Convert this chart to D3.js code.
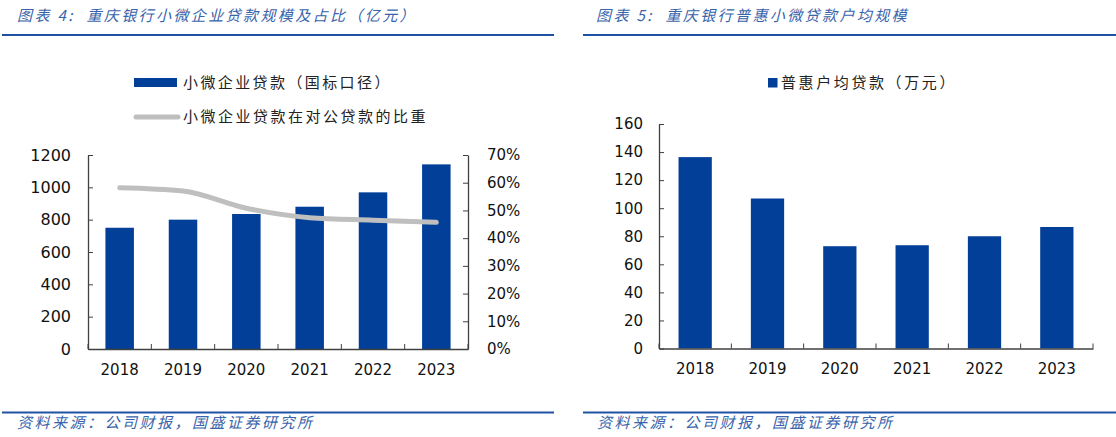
<!DOCTYPE html>
<html>
<head>
<meta charset="utf-8">
<script src="https://cdn.jsdelivr.net/npm/d3@7"></script>
<style>
  html, body { margin: 0; padding: 0; background: #fff; }
  svg { display: block; }
  text { white-space: pre; }
</style>
</head>
<body>
<svg id="chart" width="1116" height="437"></svg>
<script>
// ---------- data ----------
const years = ["2018", "2019", "2020", "2021", "2022", "2023"];
const smeLoans = [750, 800, 835, 880, 969, 1142];            // 亿元
const smeShare = [0.582, 0.570, 0.508, 0.474, 0.465, 0.457]; // 占对公贷款比重
const avgLoan = [136.4, 106.9, 72.9, 73.6, 80.0, 86.6];     // 万元
const leftTicks = [0, 200, 400, 600, 800, 1000, 1200];
const rightTicks = [0, 0.1, 0.2, 0.3, 0.4, 0.5, 0.6, 0.7];
const avgTicks = [0, 20, 40, 60, 80, 100, 120, 140, 160];

const title1 = "图表 4:  重庆银行小微企业贷款规模及占比（亿元）";
const title2 = "图表 5:  重庆银行普惠小微贷款户均规模";
const source = "资料来源：公司财报，国盛证券研究所";
const legend1a = "小微企业贷款（国标口径）";
const legend1b = "小微企业贷款在对公贷款的比重";
const legend2 = "普惠户均贷款（万元）";

// ---------- style ----------
const BAR = "#023F98";
const GREY = "#BFBFBF";
const AXIS = "#404040";
const HEAD = "#3A64AA";
const RULE = "#1F52A2";
const NUMF = "'DejaVu Sans', Verdana, sans-serif";
const CJK = "'Noto Sans CJK SC', 'Noto Sans', sans-serif";

const svg = d3.select("#chart");

// ---------- headers / footers ----------
function header(x0, x1, tx, text) {
  svg.append("line").attr("x1", x0).attr("x2", x1).attr("y1", 35).attr("y2", 35)
    .attr("stroke", RULE).attr("stroke-width", 2);
  svg.append("text").attr("x", tx).attr("y", 21)
    .attr("font-family", CJK).attr("font-size", 15).attr("font-style", "italic")
    .attr("letter-spacing", 2.4).attr("fill", HEAD).text(text);
}
function footer(x0, x1, tx) {
  svg.append("line").attr("x1", x0).attr("x2", x1).attr("y1", 412.5).attr("y2", 412.5)
    .attr("stroke", RULE).attr("stroke-width", 2);
  svg.append("text").attr("x", tx).attr("y", 428)
    .attr("font-family", CJK).attr("font-size", 15).attr("font-style", "italic")
    .attr("letter-spacing", 2.5).attr("fill", HEAD).text(source);
}
header(2, 554, 17, title1);
header(583, 1116, 596, title2);
footer(2, 554, 17);
footer(583, 1116, 597);

// ---------- chart 1 ----------
{
  const x = d3.scaleBand().domain(years).range([88, 468]).paddingInner(0.55).paddingOuter(0.275);
  const yL = d3.scaleLinear().domain([0, 1200]).range([349, 155]);
  const yR = d3.scaleLinear().domain([0, 0.7]).range([349, 155]);
  const g = svg.append("g");

  g.selectAll("rect.bar").data(years).join("rect").attr("class", "bar")
    .attr("x", d => x(d)).attr("width", x.bandwidth())
    .attr("y", (d, i) => yL(smeLoans[i])).attr("height", (d, i) => yL(0) - yL(smeLoans[i]))
    .attr("fill", BAR);

  const line = d3.line().x((d, i) => x(years[i]) + x.bandwidth() / 2).y(d => yR(d))
    .curve(d3.curveMonotoneX);
  g.append("path").datum(smeShare).attr("d", line).attr("fill", "none")
    .attr("stroke", GREY).attr("stroke-width", 5).attr("stroke-linecap", "round");

  const axL = g.append("g").attr("transform", "translate(88,0)")
    .call(d3.axisLeft(yL).tickValues(leftTicks).tickSizeInner(-5).tickSizeOuter(0).tickPadding(17).tickFormat(d3.format("d")));
  const axR = g.append("g").attr("transform", "translate(468,0)")
    .call(d3.axisRight(yR).tickValues(rightTicks).tickSizeInner(-5).tickSizeOuter(0).tickPadding(19).tickFormat(d3.format(".0%")));
  const axB = g.append("g").attr("transform", "translate(0,349)")
    .call(d3.axisBottom(x).tickSize(0).tickPadding(15));
  const bounds = d3.range(years.length + 1).map(i => 88 + i * x.step());
  axB.selectAll("line.bound").data(bounds).join("line").attr("class", "bound")
    .attr("x1", d => d).attr("x2", d => d).attr("y1", 0).attr("y2", -5)
    .attr("stroke", AXIS);

  [axL, axR, axB].forEach(a => {
    a.selectAll("path.domain").attr("stroke", AXIS).attr("stroke-width", 1.3);
    a.selectAll(".tick line").attr("stroke", AXIS);
    a.selectAll("text").attr("font-family", NUMF).attr("fill", "#111");
  });
  axL.selectAll("text").attr("font-size", 16);
  axR.selectAll("text").attr("font-size", 15);
  axB.selectAll("text").attr("font-size", 15);

  // legend
  g.append("rect").attr("x", 134).attr("y", 78).attr("width", 43).attr("height", 9).attr("fill", BAR);
  g.append("text").attr("x", 183).attr("y", 82.5).attr("dy", "0.35em")
    .attr("font-family", CJK).attr("font-size", 15).attr("letter-spacing", 2.4).attr("fill", "#222").text(legend1a);
  g.append("line").attr("x1", 136).attr("x2", 178).attr("y1", 117).attr("y2", 117)
    .attr("stroke", GREY).attr("stroke-width", 5).attr("stroke-linecap", "round");
  g.append("text").attr("x", 183).attr("y", 117).attr("dy", "0.35em")
    .attr("font-family", CJK).attr("font-size", 15).attr("letter-spacing", 2.5).attr("fill", "#222").text(legend1b);
}

// ---------- chart 2 ----------
{
  const x = d3.scaleBand().domain(years).range([659, 1093]).paddingInner(0.54).paddingOuter(0.27);
  const y = d3.scaleLinear().domain([0, 160]).range([348.5, 124]);
  const g = svg.append("g");

  g.selectAll("rect.bar").data(years).join("rect").attr("class", "bar")
    .attr("x", d => x(d)).attr("width", x.bandwidth())
    .attr("y", (d, i) => y(avgLoan[i])).attr("height", (d, i) => y(0) - y(avgLoan[i]))
    .attr("fill", BAR);

  const axL = g.append("g").attr("transform", "translate(659,0)")
    .call(d3.axisLeft(y).tickValues(avgTicks).tickSizeInner(-5).tickSizeOuter(0).tickPadding(16).tickFormat(d3.format("d")));
  const axB = g.append("g").attr("transform", "translate(0,348.5)")
    .call(d3.axisBottom(x).tickSize(0).tickPadding(15));
  const bounds = d3.range(years.length + 1).map(i => 659 + i * x.step());
  axB.selectAll("line.bound").data(bounds).join("line").attr("class", "bound")
    .attr("x1", d => d).attr("x2", d => d).attr("y1", 0).attr("y2", -5)
    .attr("stroke", AXIS);

  [axL, axB].forEach(a => {
    a.selectAll("path.domain").attr("stroke", AXIS).attr("stroke-width", 1.3);
    a.selectAll(".tick line").attr("stroke", AXIS);
    a.selectAll("text").attr("font-family", NUMF).attr("fill", "#111").attr("font-size", 15);
  });

  g.append("rect").attr("x", 768).attr("y", 78).attr("width", 9.5).attr("height", 9.5).attr("fill", BAR);
  g.append("text").attr("x", 781).attr("y", 83).attr("dy", "0.35em")
    .attr("font-family", CJK).attr("font-size", 15).attr("letter-spacing", 2.6).attr("fill", "#222").text(legend2);
}
</script>
</body>
</html>
